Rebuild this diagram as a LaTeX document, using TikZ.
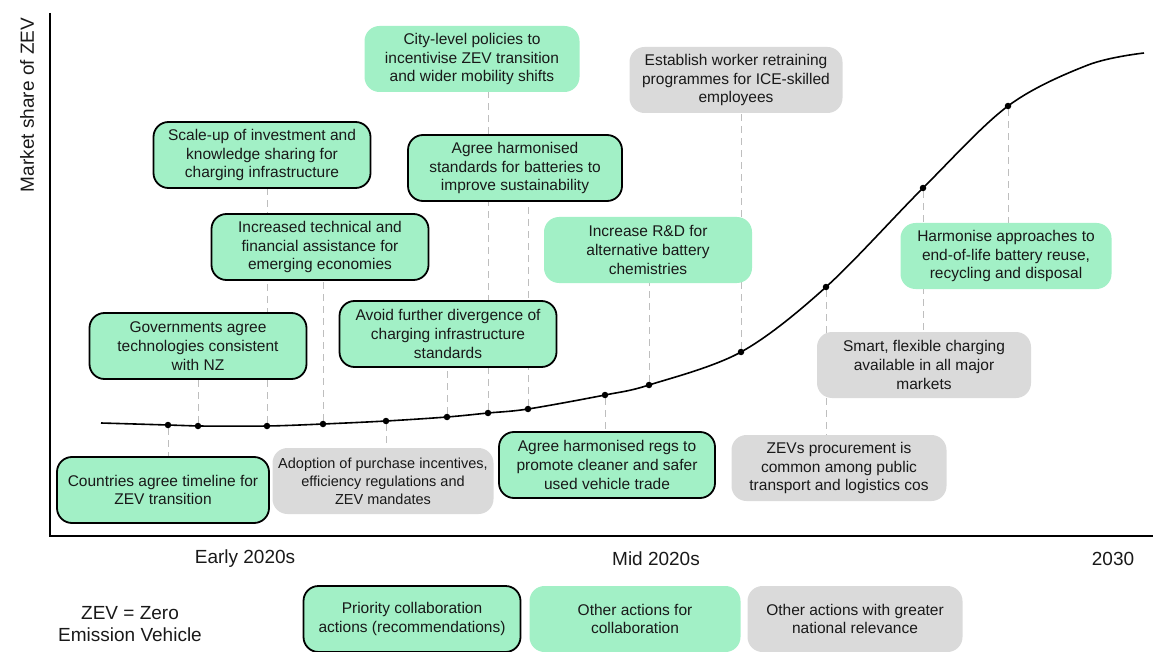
\documentclass[tikz,border=0pt]{standalone}
\usepackage{fontspec}
\setmainfont{Liberation Sans}
\usetikzlibrary{backgrounds}
\definecolor{mint}{RGB}{162,240,198}
\definecolor{greybox}{RGB}{218,218,218}
\definecolor{dashgrey}{RGB}{190,190,190}
\definecolor{txt}{RGB}{25,25,25}
\begin{document}
\begin{tikzpicture}[x=1pt,y=-1pt,
  box/.style={rounded corners=15pt, align=center, inner sep=2pt, minimum height=66pt, text=txt, font=\fontsize{15.5}{18.7}\selectfont},
  prio/.style={box, fill=mint, draw=black, line width=1.8pt},
  coll/.style={box, fill=mint},
  natl/.style={box, fill=greybox},
  dot/.style={circle, fill=black, inner sep=0pt, minimum size=6.5pt},
  conn/.style={draw=dashgrey, line width=1pt, dash pattern=on 7pt off 5pt},
  axislabel/.style={font=\fontsize{19}{22}\selectfont, text=txt}
]
\useasboundingbox (0,0) rectangle (1153,652);

% axes
\coordinate (ytop) at (50,13);
\coordinate (orig) at (50,536);
\coordinate (xend) at (1153,536);
\draw[line width=1.7pt] (ytop) -- (orig) -- (xend);
\node[axislabel, rotate=90] (ylab) at (27,105) {Market share of ZEV};
\node[axislabel] (early) at (245,559) {Early 2020s};
\node[axislabel] (mid) at (656,559) {Mid 2020s};
\node[axislabel] (y2030) at (1113,559) {2030};

% boxes
\node[coll, minimum width=215pt] (city) at (472,59) {City-level policies to\\incentivise ZEV transition\\and wider mobility shifts};
\node[prio, minimum width=217pt] (scale) at (262,155) {Scale-up of investment and\\knowledge sharing for\\charging infrastructure};
\node[prio, minimum width=214pt] (stand) at (515,168) {Agree harmonised\\standards for batteries to\\improve sustainability};
\node[prio, minimum width=217pt] (tech) at (320,247) {Increased technical and\\financial assistance for\\emerging economies};
\node[prio, minimum width=217pt] (avoid) at (448,334) {Avoid further divergence of\\charging infrastructure\\standards};
\node[prio, minimum width=217pt] (gov) at (198,346) {Governments agree\\technologies consistent\\with NZ};
\node[prio, minimum width=212pt] (countries) at (163,490) {Countries agree timeline for\\ZEV transition};
\node[natl, minimum width=221pt, font=\fontsize{14.5}{18}\selectfont] (adopt) at (383,481) {Adoption of purchase incentives,\\efficiency regulations and\\ZEV mandates};
\node[prio, minimum width=216pt] (regs) at (607,465) {Agree harmonised regs to\\promote cleaner and safer\\used vehicle trade};
\node[natl, minimum width=215pt] (zevs) at (839,468) {ZEVs procurement is\\common among public\\transport and logistics cos};
\node[natl, minimum width=214pt] (smart) at (924,365) {Smart, flexible charging\\available in all major\\markets};
\node[coll, minimum width=211pt] (harm) at (1006,256) {Harmonise approaches to\\end-of-life battery reuse,\\recycling and disposal};
\node[coll, minimum width=208pt] (rd) at (648,250) {Increase R\&D for\\alternative battery\\chemistries};
\node[natl, minimum width=213pt] (worker) at (736,80) {Establish worker retraining\\programmes for ICE-skilled\\employees};

% legend
\node[axislabel, align=center] (zev) at (130,624) {ZEV = Zero\\Emission Vehicle};
\node[prio, minimum width=217pt] (lp) at (412,619) {Priority collaboration\\actions (recommendations)};
\node[coll, minimum width=211pt] (lc) at (635,619) {Other actions for\\collaboration};
\node[natl, minimum width=215pt] (ln) at (855,619) {Other actions with greater\\national relevance};

% dots
\node[dot] (d1) at (168,425) {};
\node[dot] (d2) at (198,426) {};
\node[dot] (d3) at (267,426) {};
\node[dot] (d4) at (323,424) {};
\node[dot] (d5) at (386,421) {};
\node[dot] (d6) at (447,417) {};
\node[dot] (d7) at (488,413) {};
\node[dot] (d8) at (528,409) {};
\node[dot] (d9) at (605,395) {};
\node[dot] (d10) at (649,385) {};
\node[dot] (d11) at (741,352) {};
\node[dot] (d12) at (826,287) {};
\node[dot] (d13) at (923,188) {};
\node[dot] (d14) at (1008,106) {};

% curve
\coordinate (cstart) at (101,423);
\coordinate (cnear) at (1088,65);
\coordinate (cend) at (1144,53);
\draw[line width=1.6pt] plot[smooth, tension=0.55] coordinates {(cstart) (d1.center) (d2.center) (d3.center) (d4.center) (d5.center) (d6.center) (d7.center) (d8.center) (d9.center) (d10.center) (d11.center) (d12.center) (d13.center) (d14.center) (cnear) (cend)};

% connectors
\begin{pgfonlayer}{background}
\draw[conn] (d1) -- (d1 |- countries.north);
\draw[conn] (d2) -- (d2 |- gov.south);
\draw[conn] (d3) -- (d3 |- scale.south);
\draw[conn] (d4) -- (d4 |- tech.south);
\draw[conn] (d5) -- (d5 |- adopt.north);
\draw[conn] (d6) -- (d6 |- avoid.south);
\draw[conn] (d7) -- (d7 |- city.south);
\draw[conn] (d8) -- (d8 |- stand.south);
\draw[conn] (d9) -- (d9 |- regs.north);
\draw[conn] (d10) -- (d10 |- rd.south);
\draw[conn] (d11) -- (d11 |- worker.south);
\draw[conn] (d12) -- (d12 |- zevs.north);
\draw[conn] (d13) -- (d13 |- smart.north);
\draw[conn] (d14) -- (d14 |- harm.north);
\end{pgfonlayer}
\end{tikzpicture}
\end{document}
